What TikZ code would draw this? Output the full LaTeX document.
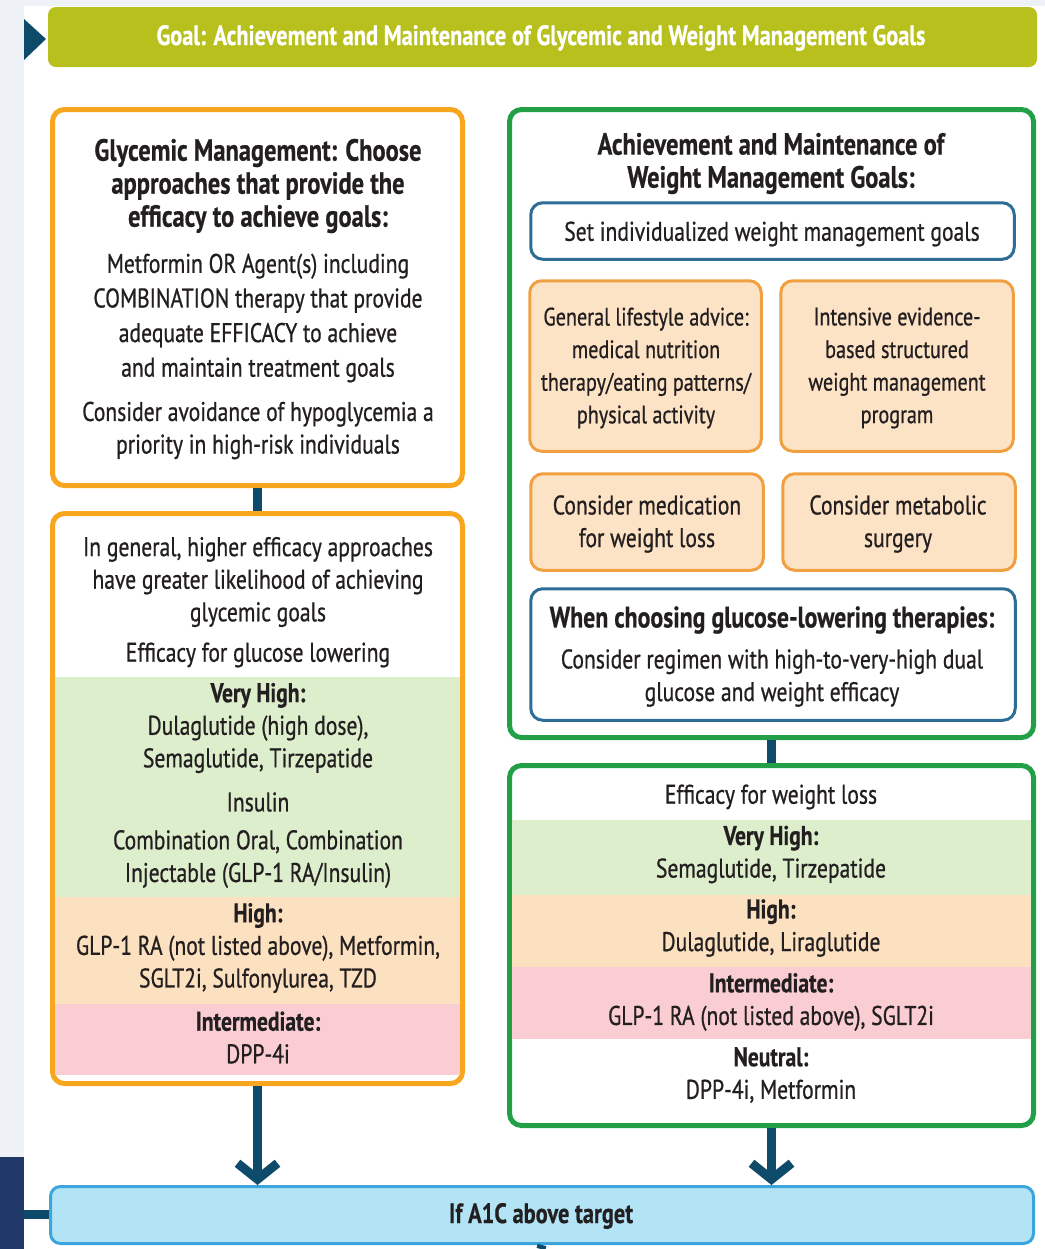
\documentclass[tikz,border=0pt]{standalone}
\usepackage{fontspec}
\setmainfont{PT Sans}[FakeStretch=0.8, UprightFeatures={FakeBold=0.7}, BoldFeatures={FakeBold=0.5}]
\usepackage{xcolor}
\usetikzlibrary{arrows.meta,fit}
\definecolor{goalolive}{HTML}{B8C01E}
\definecolor{glyorange}{HTML}{F7A61E}
\definecolor{wtgreen}{HTML}{22A048}
\definecolor{linknavy}{HTML}{0E4A6A}
\definecolor{setblue}{HTML}{2E6E96}
\definecolor{lifefill}{HTML}{FDE3C6}
\definecolor{lifeline}{HTML}{F0A040}
\definecolor{bandgreen}{HTML}{DDEECC}
\definecolor{bandorange}{HTML}{FCE1C0}
\definecolor{bandpink}{HTML}{F9CDD2}
\definecolor{a1cfill}{HTML}{B2E4F6}
\definecolor{a1cline}{HTML}{3CA5DC}
\definecolor{stripgray}{HTML}{EEF1F6}
\definecolor{stripnavy}{HTML}{1F3868}
\definecolor{textdark}{HTML}{231F20}
\tikzset{
  goal bar/.style={fill=goalolive, rounded corners=4pt, inner sep=0pt},
  gly frame/.style={draw=glyorange, fill=white, line width=2.5pt, rounded corners=6pt, inner sep=0pt},
  wt frame/.style={draw=wtgreen, fill=white, line width=2.5pt, rounded corners=6pt, inner sep=0pt},
  set frame/.style={draw=setblue, fill=white, line width=1.5pt, rounded corners=6pt, inner sep=0pt},
  life frame/.style={draw=lifeline, fill=lifefill, line width=1.5pt, rounded corners=6pt, inner sep=0pt},
  a1c frame/.style={draw=a1cline, fill=a1cfill, line width=1.5pt, rounded corners=5pt, inner sep=0pt},
  box text/.style={align=center, text=textdark, inner sep=0pt, font=\fontsize{13.5}{16.3}\selectfont},
  life text/.style={box text, font=\fontsize{12.6}{16.3}\selectfont},
  box title/.style={box text, font=\fontsize{15.3}{16.5}\selectfont\bfseries},
  link/.style={draw=linknavy, line width=4.5pt},
  flow/.style={link, -{Straight Barb[length=8pt, width=20pt]}}
}
\begin{document}
\begin{tikzpicture}[x=0.5pt, y=-0.5pt]
  \useasboundingbox (0,0) rectangle (1045,1249);
  % page edge
  \fill[stripgray] (0,0) rectangle (1045,6);
  \fill[stripgray] (0,0) rectangle (24,1157);
  \fill[stripnavy] (0,1157) rectangle (24,1249);
  \fill[linknavy] (24,19) -- (46,39) -- (24,60) -- cycle;

  % goal banner
  \node[goal bar, fit={(48,7) (1037,67)}] (goal) {};
  \node[box title, text=white, font=\fontsize{14}{15}\selectfont\bfseries] (goaltext) at (541,38) {Goal: Achievement and Maintenance of Glycemic and Weight Management Goals};

  % glycemic side
  \node[gly frame, fit={(52.5,109.5) (462.5,485.5)}] (gly) {};
  \node[box title] (glytitle) at (258,186) {Glycemic Management: Choose\\approaches that provide the\\efficacy to achieve goals:};
  \node[box text, font=\fontsize{13.5}{17.3}\selectfont] (glybody) at (258,318) {Metformin OR Agent(s) including\\COMBINATION therapy that provide\\adequate EFFICACY to achieve\\and maintain treatment goals};
  \node[box text] (glyhypo) at (258,430.5) {Consider avoidance of hypoglycemia a\\priority in high-risk individuals};

  \node[gly frame, fit={(52.5,513.5) (462.5,1083.5)}] (glyeff) {};
  \fill[bandgreen] (55,677) rectangle (460,897);
  \fill[bandorange] (55,897) rectangle (460,1004);
  \fill[bandpink] (55,1004) rectangle (460,1075);
  \node[box text] (glygeneral) at (258,582) {In general, higher efficacy approaches\\have greater likelihood of achieving\\glycemic goals};
  \node[box text] (glyefftitle) at (258,655) {Efficacy for glucose lowering};
  \node[box text] (glyvhigh) at (258,728) {\textbf{Very High:}\\Dulaglutide (high dose),\\Semaglutide, Tirzepatide};
  \node[box text] (glyinsulin) at (258,802) {Insulin};
  \node[box text] (glycombo) at (258,859) {Combination Oral, Combination\\Injectable (GLP-1 RA/Insulin)};
  \node[box text] (glyhigh) at (258,948) {\textbf{High:}\\GLP-1 RA (not listed above), Metformin,\\SGLT2i, Sulfonylurea, TZD};
  \node[box text] (glymid) at (258,1037.5) {\textbf{Intermediate:}\\DPP-4i};

  % weight side
  \node[wt frame, fit={(509.5,109.5) (1033.5,737.5)}] (wt) {};
  \node[box title] (wttitle) at (771,163.5) {Achievement and Maintenance of\\Weight Management Goals:};
  \node[set frame, fit={(530.75,202.75) (1014.25,259.25)}] (setgoal) {};
  \node[box text] (settext) at (772,234) {Set individualized weight management goals};
  \node[life frame, fit={(529.75,280.75) (761.25,451.25)}] (lifestyle) {};
  \node[life text] (lifetext) at (646,368) {General lifestyle advice:\\medical nutrition\\therapy/eating patterns/\\physical activity};
  \node[life frame, fit={(780.75,280.75) (1013.25,451.25)}] (intensive) {};
  \node[life text] (intensivetext) at (897,368) {Intensive evidence-\\based structured\\weight management\\program};
  \node[life frame, fit={(530.75,473.75) (763.25,570.25)}] (medication) {};
  \node[box text] (medtext) at (647,524) {Consider medication\\for weight loss};
  \node[life frame, fit={(782.75,473.75) (1015.25,570.25)}] (surgery) {};
  \node[box text] (surgerytext) at (898,524) {Consider metabolic\\surgery};
  \node[set frame, fit={(530.75,588.75) (1015.25,720.25)}] (choose) {};
  \node[box title, font=\fontsize{14.9}{16.5}\selectfont\bfseries] (choosetitle) at (772,620) {When choosing glucose-lowering therapies:};
  \node[box text] (choosebody) at (772,678) {Consider regimen with high-to-very-high dual\\glucose and weight efficacy};

  \node[wt frame, fit={(509.5,765.5) (1033.5,1125.5)}] (wteff) {};
  \fill[bandgreen] (512,820) rectangle (1031,895);
  \fill[bandorange] (512,895) rectangle (1031,967);
  \fill[bandpink] (512,967) rectangle (1031,1039);
  \node[box text] (wtefftitle) at (771,797) {Efficacy for weight loss};
  \node[box text] (wtvhigh) at (771,854.5) {\textbf{Very High:}\\Semaglutide, Tirzepatide};
  \node[box text] (wthigh) at (771,928) {\textbf{High:}\\Dulaglutide, Liraglutide};
  \node[box text] (wtmid) at (771,1002) {\textbf{Intermediate:}\\GLP-1 RA (not listed above), SGLT2i};
  \node[box text] (wtneutral) at (771,1075) {\textbf{Neutral:}\\DPP-4i, Metformin};

  % next step
  \node[a1c frame, fit={(50.5,1186.5) (1033.5,1243.5)}] (a1c) {};
  \node[box title, font=\fontsize{14}{15}\selectfont\bfseries] (a1ctext) at (541,1216) {If A1C above target};

  \coordinate (stripedge) at (24,1214);
  \coordinate (pagebottom) at (541,1249);
  \draw[link] (gly) -- (glyeff);
  \draw[link] (wt) -- (wteff);
  \draw[flow] (glyeff.south) -- (glyeff.south |- a1c.north);
  \draw[flow] (wteff.south) -- (wteff.south |- a1c.north);
  \draw[link] (stripedge) -- (a1c.west |- stripedge);
  \draw[link] (a1c.south) -- (pagebottom);
\end{tikzpicture}
\end{document}
